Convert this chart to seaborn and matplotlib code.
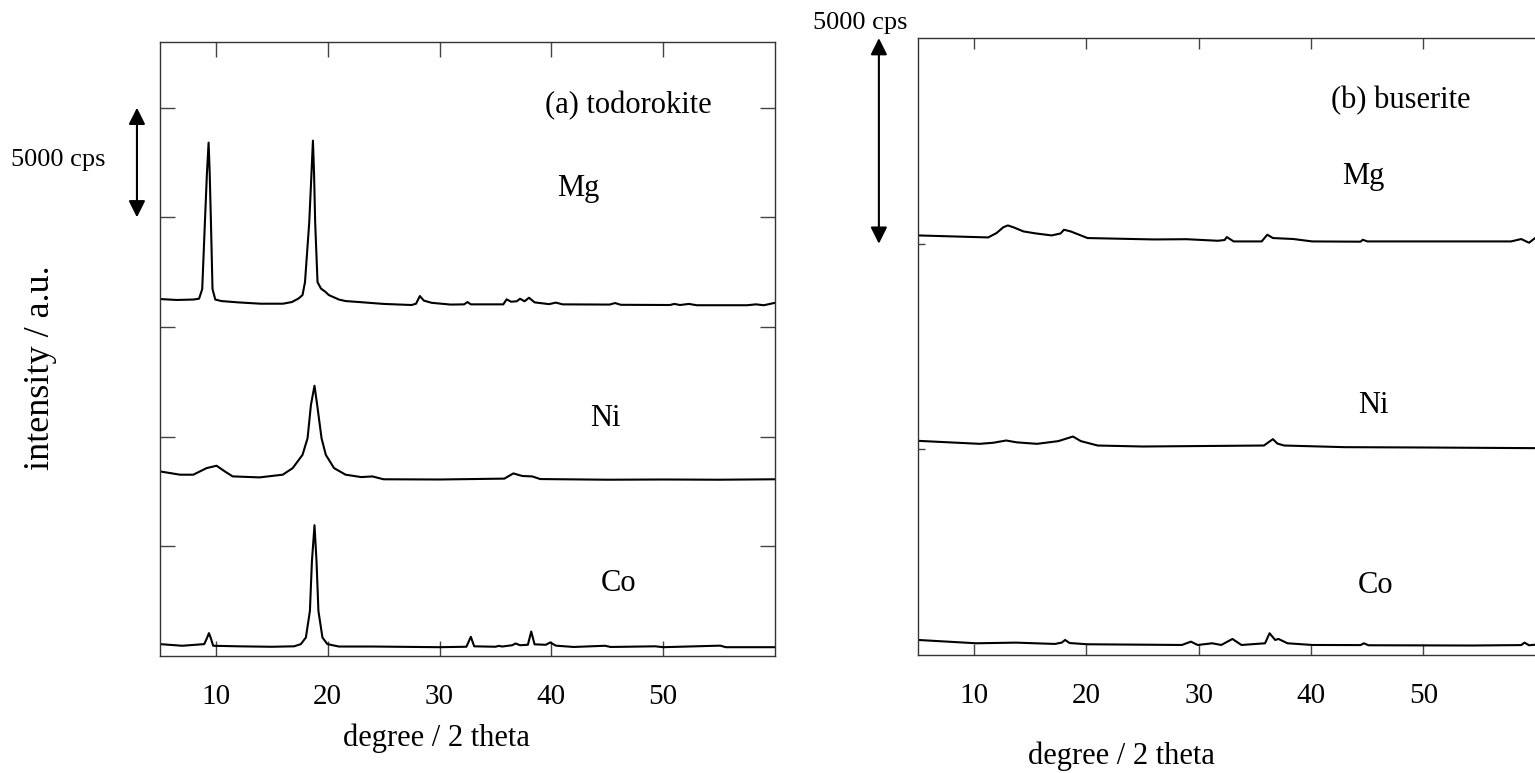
import matplotlib
matplotlib.use("Agg")
import matplotlib.pyplot as plt
import pandas as pd
import seaborn as sns

# ---- (a) todorokite, intensities in cps (offset added for stacking)
todo_mg_deg = [5.0, 6.5, 8.0, 8.5, 8.78, 9.02, 9.2, 9.35, 9.45, 9.56, 9.7, 9.95, 10.5, 12.0, 14.0,
               16.0, 16.8, 17.4, 17.75, 17.97, 18.35, 18.55, 18.68, 18.78, 18.88, 19.09, 19.4, 19.8,
               20.1, 21.0, 21.6, 22.8, 25.0, 27.5, 27.9, 28.24, 28.6, 29.3, 31.0, 32.2, 32.5, 32.8,
               35.7, 36.0, 36.4, 36.9, 37.2, 37.6, 38.0, 38.5, 39.8, 40.4, 41.0, 45.2, 45.7, 46.2,
               50.6, 51.0, 51.5, 52.3, 53.0, 57.5, 58.3, 59.0, 60.0]
todo_mg_cps = [773, 730, 750, 790, 1227, 4272, 6500, 7909, 6500, 4272, 1227, 750, 680, 620, 560,
               560, 636, 800, 955, 1545, 4272, 6500, 8000, 6500, 4272, 1545, 1250, 1100,
               955, 750, 680, 636, 550, 500, 560, 909, 700, 600, 520, 530, 636, 530,
               530, 759, 650, 670, 786, 670, 832, 620, 540, 610, 530, 520, 590, 510,
               500, 550, 500, 550, 490, 490, 530, 490, 600]

todo_ni_deg = [5.0, 6.8, 7.98, 9.17, 10.06, 10.8, 11.5, 13.9, 15.98, 16.87, 17.75, 18.2, 18.5,
               18.82, 19.06, 19.45, 19.83, 20.57, 21.6, 23.0, 24.0, 25.0, 30.0, 35.8, 36.6, 37.4,
               38.3, 39.0, 45.0, 50.0, 55.0, 60.0]
todo_ni_cps = [709, 559, 559, 859, 968, 709, 482, 436, 559, 859, 1466, 2223, 3740,
               4618, 3740, 2223, 1466, 859, 559, 450, 480, 350, 340, 380, 618, 500,
               480, 360, 330, 340, 330, 350]

todo_co_deg = [5.0, 7.0, 8.96, 9.2, 9.38, 9.55, 9.76, 12.0, 15.0, 17.0, 17.6, 18.05, 18.41, 18.59,
               18.82, 19.0, 19.17, 19.53, 19.97, 21.0, 24.0, 30.0, 32.4, 32.8, 33.1, 35.0, 35.3,
               35.6, 36.5, 36.8, 37.2, 37.9, 38.2, 38.5, 39.5, 39.9, 40.4, 42.0, 44.8, 45.3, 49.3,
               50.0, 55.1, 55.6, 60.0]
todo_co_cps = [530, 455, 530, 800, 1032, 800, 455, 430, 409, 430, 530, 832, 2045, 4318,
               5955, 4318, 2045, 832, 530, 420, 420, 390, 410, 864, 430, 410, 450,
               420, 480, 559, 480, 500, 1104, 520, 500, 605, 460, 400, 455, 400, 430,
               390, 460, 390, 390]

# ---- (b) buserite
bus_mg_deg = [5.0, 11.25, 12.0, 12.6, 13.0, 13.5, 14.4, 15.5, 16.9, 17.7, 18.0, 18.6, 20.1, 26.0,
              28.9, 31.7, 32.3, 32.5, 33.1, 35.6, 36.1, 36.6, 38.4, 40.1, 44.4, 44.6, 45.0,
              50.7, 57.8, 58.7, 59.4, 60.0]
bus_mg_cps = [202, 153, 260, 400, 445, 400, 299, 250, 202, 250, 340, 299, 138, 104,
              110, 72, 90, 162, 56, 56, 219, 138, 115, 56, 50, 97, 56,
              56, 56, 114, 24, 150]

bus_ni_deg = [5.0, 10.5, 11.7, 12.85, 13.8, 15.6, 17.5, 18.8, 19.5, 21.0, 25.0, 35.8, 36.6, 37.0,
              37.6, 43.0, 50.0, 60.0]
bus_ni_cps = [207, 134, 160, 215, 170, 134, 200, 312, 200, 93, 69, 93, 248, 140,
              93, 53, 45, 29]

bus_co_deg = [5.0, 10.2, 13.7, 17.2, 17.8, 18.1, 18.5, 20.1, 28.5, 29.3, 29.9, 31.2, 32.0, 33.0,
              33.8, 35.9, 36.3, 36.8, 37.1, 37.9, 40.1, 44.4, 44.7, 45.1, 54.3, 58.7, 59.0,
              59.4, 60.0]
bus_co_cps = [365, 284, 300, 268, 300, 365, 290, 260, 243, 324, 243, 284, 243, 389,
              243, 284, 528, 365, 389, 284, 243, 240, 284, 236, 230, 240, 300,
              236, 250]

samples = ["Mg", "Ni", "Co"]
todo_offsets = [15500, 7700, 0]
bus_offsets = [10000, 5000, 0]


def stack(degs, cps, offsets):
    frames = []
    for name, d, c, off in zip(samples, degs, cps, offsets):
        frames.append(pd.DataFrame({"deg": d, "cps": [v + off for v in c], "sample": name}))
    return pd.concat(frames, ignore_index=True)


df_a = stack([todo_mg_deg, todo_ni_deg, todo_co_deg], [todo_mg_cps, todo_ni_cps, todo_co_cps], todo_offsets)
df_b = stack([bus_mg_deg, bus_ni_deg, bus_co_deg], [bus_mg_cps, bus_ni_cps, bus_co_cps], bus_offsets)

sns.set_theme(style="ticks")
plt.rcParams["font.family"] = ["Liberation Serif", "DejaVu Serif"]
plt.rcParams["text.color"] = "black"

fig = plt.figure(figsize=(15.35, 7.73), dpi=100)
ax1 = fig.add_axes([0.1042, 0.1517, 0.4007, 0.794])
ax2 = fig.add_axes([0.598, 0.1527, 0.4025, 0.798])

for ax, df in [(ax1, df_a), (ax2, df_b)]:
    sns.lineplot(data=df, x="deg", y="cps", units="sample", estimator=None, color="black",
                 linewidth=1.5, sort=False, ax=ax, legend=False)
    ax.set_xlim(5, 60)
    ax.set_xticks([10, 20, 30, 40, 50])
    ax.set_xlabel("")
    ax.set_ylabel("")
    for s in ax.spines.values():
        s.set_color("#333333")
        s.set_linewidth(1.0)
    ax.tick_params(axis="x", direction="in", length=11, width=1, color="#444444",
                   labelcolor="black", top=True, labelsize=21, pad=20)

ax1.set_ylim(0, 28000)
ax1.set_yticks([5000, 10000, 15000, 20000, 25000])
ax1.tick_params(axis="y", direction="in", length=11, width=1, color="#444444",
                left=True, right=True, labelleft=False)

ax2.set_ylim(0, 15000)
ax2.set_yticks([5000, 10000])
ax2.tick_params(axis="y", direction="in", length=5, width=1, color="#444444",
                left=True, right=False, labelleft=False)
ax2.tick_params(axis="x", length=8)

txt = dict(fontsize=22, ha="center", va="center", color="black")
ax1.text(0.761, 0.897, "(a) todorokite", transform=ax1.transAxes, **txt)
ax1.text(0.680, 0.762, "Mg", transform=ax1.transAxes, **txt)
ax1.text(0.724, 0.387, "Ni", transform=ax1.transAxes, **txt)
ax1.text(0.745, 0.117, "Co", transform=ax1.transAxes, **txt)
ax1.text(0.450, -0.134, "degree / 2 theta", transform=ax1.transAxes, **txt)
ax1.text(-0.195, 0.47, "intensity / a.u.", transform=ax1.transAxes, rotation=90,
         fontsize=26, ha="center", va="center", color="black")

ax2.text(0.781, 0.8995, "(b) buserite", transform=ax2.transAxes, **txt)
ax2.text(0.721, 0.775, "Mg", transform=ax2.transAxes, **txt)
ax2.text(0.737, 0.405, "Ni", transform=ax2.transAxes, **txt)
ax2.text(0.741, 0.113, "Co", transform=ax2.transAxes, **txt)
ax2.text(0.329, -0.164, "degree / 2 theta", transform=ax2.transAxes, **txt)

arrow = dict(arrowstyle="<|-|>", color="black", lw=1.5, mutation_scale=25, shrinkA=0, shrinkB=0)
ax1.annotate("", xy=(-0.0374, 25000), xytext=(-0.0374, 20000),
             xycoords=("axes fraction", "data"), textcoords=("axes fraction", "data"),
             arrowprops=arrow, annotation_clip=False)
ax2.annotate("", xy=(-0.0632, 15000), xytext=(-0.0632, 10000),
             xycoords=("axes fraction", "data"), textcoords=("axes fraction", "data"),
             arrowprops=arrow, annotation_clip=False)
fig.text(58 / 1535, 1 - 160 / 773, "5000 cps", fontsize=19, ha="center", va="center", color="black")
fig.text(860 / 1535, 1 - 23 / 773, "5000 cps", fontsize=19, ha="center", va="center", color="black")

fig.savefig("out.png", dpi=100)
